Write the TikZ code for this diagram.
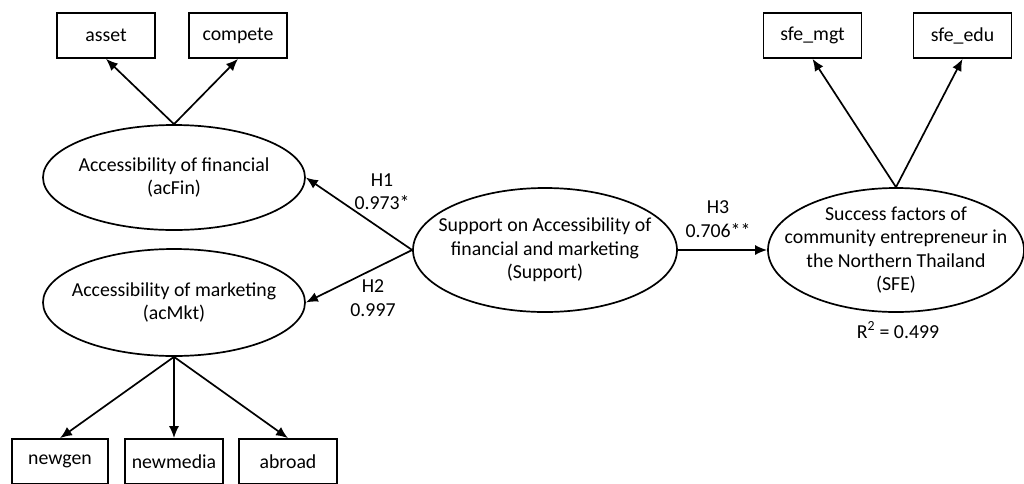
\documentclass[tikz,border=0pt]{standalone}
\usepackage{fontspec}
\setmainfont{Carlito}
\usetikzlibrary{shapes.geometric,arrows.meta}
\begin{document}
\begin{tikzpicture}[x=1pt,y=-1pt,
  every node/.style={font=\fontsize{19.8}{23.5}\selectfont},
  ind/.style={draw,line width=1.7pt,minimum width=98pt,minimum height=45pt,inner sep=0pt},
  lat/.style={draw,ellipse,line width=1.7pt,inner sep=0pt},
  lbl/.style={align=center,inner sep=0pt},
  arr/.style={line width=1.7pt,-{Latex[length=12pt,width=10pt]}}]
\useasboundingbox (0,0) rectangle (1024,483);
% indicator boxes
\node[ind] (asset) at (106,35.5) {asset};
\node[ind] (compete) at (238,35.5) {compete};
\node[ind] (sfemgt) at (812.5,35.5) {sfe\_mgt};
\node[ind] (sfeedu) at (962.5,35.5) {sfe\_edu};
\node[ind,minimum width=96pt] (newgen) at (60,461.5) {newgen};
\node[ind] (newmedia) at (174,461.5) {newmedia};
\node[ind] (abroad) at (288,461.5) {abroad};
% latent ellipses
\node[lat,minimum width=262pt,minimum height=105pt] (acfin) at (174,177.5) {};
\node[lbl] at (acfin) {Accessibility of financial\\(acFin)};
\node[lat,minimum width=262pt,minimum height=107pt] (acmkt) at (174,302.5) {};
\node[lbl] at (acmkt) {Accessibility of marketing\\(acMkt)};
\node[lat,minimum width=264pt,minimum height=124pt] (sup) at (545,250) {};
\node[lbl] at (sup) {Support on Accessibility of\\financial and marketing\\(Support)};
\node[lat,minimum width=256pt,minimum height=124pt] (sfe) at (896,250) {};
\node[lbl] at (sfe) {Success factors of\\community entrepreneur in\\the Northern Thailand\\(SFE)};
% path labels
\node[lbl] (h1) at (382,191.5) {H1\\0.973*};
\node[lbl] (h2) at (373,298) {H2\\0.997};
\node[lbl] (h3) at (718,219) {H3\\0.706**};
\node[lbl] (r2) at (898,330) {R\textsuperscript{2} = 0.499};
% connectors
\draw[arr] (acfin.north) -- (asset.south);
\draw[arr] (acfin.north) -- (compete.south);
\draw[arr] (sfe.north) -- (sfemgt.south);
\draw[arr] (sfe.north) -- (sfeedu.south);
\draw[arr] (acmkt.south) -- (newgen.north);
\draw[arr] (acmkt.south) -- (newmedia.north);
\draw[arr] (acmkt.south) -- (abroad.north);
\draw[arr] (sup.west) -- (acfin.east);
\draw[arr] (sup.west) -- (acmkt.east);
\draw[arr] (sup.east) -- (sfe.west);
\end{tikzpicture}
\end{document}
